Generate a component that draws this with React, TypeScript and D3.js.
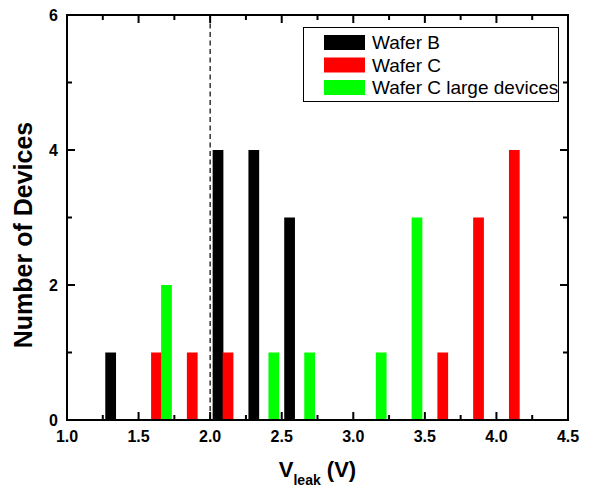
import React from "react";
import * as d3 from "d3";

const binCenters = [1.375, 1.625, 1.875, 2.125, 2.375, 2.625, 2.875, 3.125, 3.375, 3.625, 3.875, 4.125];
const waferB = [1, 0, 0, 4, 4, 3, 0, 0, 0, 0, 0, 0];
const waferC = [0, 1, 1, 1, 0, 0, 0, 0, 0, 1, 3, 4];
const waferCLarge = [0, 2, 0, 0, 1, 1, 0, 1, 3, 0, 0, 0];
const seriesNames = ["Wafer B", "Wafer C", "Wafer C large devices"];
const seriesColors = ["#000000", "#ff0000", "#00ff00"];
const seriesOffsets = [-0.07, 0, 0.07];
const xTicks = [1.0, 1.5, 2.0, 2.5, 3.0, 3.5, 4.0, 4.5];
const xMinor = [1.25, 1.75, 2.25, 2.75, 3.25, 3.75, 4.25];
const yTicks = [0, 2, 4, 6];
const yMinor = [1, 3, 5];
const refLine = 2.0;

const W = 589, H = 489;
const L = 67, R = 568, T = 15, B = 420;
const FONT = "'Liberation Sans', Arial, Helvetica, sans-serif";

export default function App() {
  const x = d3.scaleLinear().domain([1, 4.5]).range([L, R]);
  const y = d3.scaleLinear().domain([0, 6]).range([B, T]);
  const bw = x(0.075) - x(0);
  const series = [waferB, waferC, waferCLarge];
  const fmt = d3.format(".1f");

  return (
    <svg width={W} height={H} style={{ position: "absolute", left: 0, top: 0, background: "#fff" }}>
      <rect x={0} y={0} width={W} height={H} fill="#fff" />
      <line x1={x(refLine)} x2={x(refLine)} y1={T} y2={B} stroke="#000" strokeWidth={1.2} strokeDasharray="5,3.5" />
      {series.map((vals, si) =>
        vals.map((v, i) =>
          v > 0 ? (
            <rect
              key={`${si}-${i}`}
              x={x(binCenters[i] + seriesOffsets[si]) - bw / 2}
              y={y(v)}
              width={bw}
              height={y(0) - y(v)}
              fill={seriesColors[si]}
            />
          ) : null
        )
      )}
      {/* ticks */}
      {xTicks.map((t) => (
        <g key={`xt${t}`}>
          <line x1={x(t)} x2={x(t)} y1={B} y2={B - 8} stroke="#000" strokeWidth={2} />
          <line x1={x(t)} x2={x(t)} y1={T} y2={T + 8} stroke="#000" strokeWidth={2} />
          <text x={x(t)} y={442} textAnchor="middle" fontFamily={FONT} fontWeight="bold" fontSize={16}>
            {fmt(t)}
          </text>
        </g>
      ))}
      {xMinor.map((t) => (
        <g key={`xm${t}`}>
          <line x1={x(t)} x2={x(t)} y1={B} y2={B - 5} stroke="#000" strokeWidth={2} />
          <line x1={x(t)} x2={x(t)} y1={T} y2={T + 5} stroke="#000" strokeWidth={2} />
        </g>
      ))}
      {yTicks.map((t) => (
        <g key={`yt${t}`}>
          <line x1={L} x2={L + 8} y1={y(t)} y2={y(t)} stroke="#000" strokeWidth={2} />
          <line x1={R} x2={R - 8} y1={y(t)} y2={y(t)} stroke="#000" strokeWidth={2} />
          <text x={58} y={y(t) + 6} textAnchor="end" fontFamily={FONT} fontWeight="bold" fontSize={16}>
            {t}
          </text>
        </g>
      ))}
      {yMinor.map((t) => (
        <g key={`ym${t}`}>
          <line x1={L} x2={L + 5} y1={y(t)} y2={y(t)} stroke="#000" strokeWidth={2} />
          <line x1={R} x2={R - 5} y1={y(t)} y2={y(t)} stroke="#000" strokeWidth={2} />
        </g>
      ))}
      <rect x={L} y={T} width={R - L} height={B - T} fill="none" stroke="#000" strokeWidth={2} />
      {/* legend */}
      <rect x={303.5} y={27.5} width={255} height={74} fill="#fff" stroke="#000" strokeWidth={1} />
      {seriesNames.map((n, i) => (
        <g key={n}>
          <rect x={324} y={35 + i * 22.5} width={41} height={15} fill={seriesColors[i]} />
          <text x={372} y={49 + i * 22.5} fontFamily={FONT} fontSize={19}>
            {n}
          </text>
        </g>
      ))}
      {/* axis titles */}
      <text
        transform={`translate(32,235) rotate(-90)`}
        textAnchor="middle"
        fontFamily={FONT}
        fontWeight="bold"
        fontSize={25}
      >
        Number of Devices
      </text>
      <text x={(L + R) / 2} y={477} textAnchor="middle" fontFamily={FONT} fontWeight="bold" fontSize={22}>
        V<tspan fontSize={14} dy={8}>leak</tspan>
        <tspan dy={-8}> (V)</tspan>
      </text>
    </svg>
  );
}
